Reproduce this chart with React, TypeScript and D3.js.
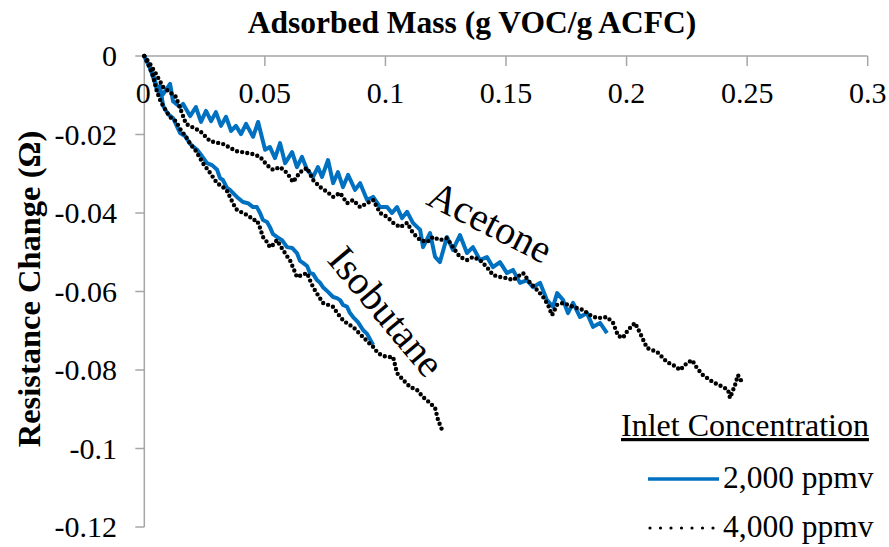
import React from "react";
import * as d3 from "d3";

// Adsorbed mass (g VOC / g ACFC) vs. resistance change (ohm)
const acetone2000: [number, number][] = [
  [0, 0], [0.0036, -0.0046], [0.0057, -0.0089], [0.0078, -0.0097], [0.0107, -0.0071],
  [0.0119, -0.0115], [0.0148, -0.013], [0.0161, -0.0122], [0.019, -0.0153], [0.0214, -0.013],
  [0.0235, -0.0168], [0.0256, -0.014], [0.0277, -0.0166], [0.0297, -0.0143], [0.0318, -0.0178],
  [0.0339, -0.0155], [0.036, -0.0191], [0.038, -0.0178], [0.0401, -0.0199], [0.0422, -0.0173],
  [0.0451, -0.0206], [0.0472, -0.0168], [0.0492, -0.0217], [0.0501, -0.0239], [0.0521, -0.0232],
  [0.0542, -0.026], [0.0563, -0.0222], [0.0584, -0.0273], [0.0613, -0.0245], [0.0633, -0.0283],
  [0.0654, -0.0257], [0.0675, -0.029], [0.07, -0.0308], [0.072, -0.0283], [0.0737, -0.0308],
  [0.0762, -0.0265], [0.0783, -0.0324], [0.0803, -0.0296], [0.0824, -0.0334], [0.0845, -0.0303],
  [0.0874, -0.0341], [0.0895, -0.0324], [0.0924, -0.0367], [0.0949, -0.0359], [0.0978, -0.0385],
  [0.1007, -0.0385], [0.1027, -0.04], [0.1048, -0.0385], [0.1069, -0.0413], [0.109, -0.0397],
  [0.1114, -0.0425], [0.1144, -0.0443], [0.1156, -0.0487], [0.1185, -0.0451], [0.1206, -0.0512],
  [0.1226, -0.0525], [0.1255, -0.0461], [0.128, -0.0494], [0.1309, -0.0456], [0.1338, -0.0502],
  [0.1363, -0.0487], [0.1392, -0.052], [0.1421, -0.0512], [0.1446, -0.0538], [0.1475, -0.0525],
  [0.1504, -0.0553], [0.1529, -0.0545], [0.1558, -0.0578], [0.1587, -0.0571], [0.1612, -0.0589],
  [0.1641, -0.0578], [0.167, -0.0622], [0.1695, -0.0639], [0.1712, -0.0604], [0.1737, -0.0622],
  [0.1757, -0.0655], [0.1778, -0.0629], [0.1807, -0.0665], [0.1836, -0.0655], [0.1861, -0.069],
  [0.189, -0.068], [0.1919, -0.0706],
];

const acetone4000: [number, number][] = [
  [0, 0], [0.0024, -0.002], [0.0049, -0.0046], [0.0078, -0.0079], [0.0131, -0.0104],
  [0.0173, -0.0173], [0.0231, -0.0191], [0.0273, -0.0217], [0.0326, -0.0224], [0.038, -0.0242],
  [0.0451, -0.025], [0.048, -0.0257], [0.0509, -0.0278], [0.0534, -0.029], [0.0563, -0.0283],
  [0.0592, -0.0298], [0.0617, -0.0321], [0.0646, -0.0296], [0.0675, -0.0285], [0.07, -0.0316],
  [0.0729, -0.0334], [0.0758, -0.0346], [0.0783, -0.0359], [0.0812, -0.0349], [0.0841, -0.0375],
  [0.0866, -0.0367], [0.0895, -0.0385], [0.0924, -0.0375], [0.0949, -0.0367], [0.0978, -0.04],
  [0.1007, -0.041], [0.1032, -0.0425], [0.1061, -0.0436], [0.109, -0.0425], [0.1114, -0.0451],
  [0.1144, -0.0469], [0.1173, -0.0474], [0.1197, -0.0461], [0.1226, -0.0469], [0.1255, -0.0464],
  [0.128, -0.0487], [0.1309, -0.0512], [0.1338, -0.052], [0.1363, -0.0512], [0.1392, -0.052],
  [0.1421, -0.0538], [0.1446, -0.0558], [0.1475, -0.0563], [0.1504, -0.0566], [0.1529, -0.0571],
  [0.1558, -0.0558], [0.1571, -0.0553], [0.16, -0.0578], [0.1629, -0.0596], [0.1654, -0.0614],
  [0.1674, -0.0634], [0.1691, -0.066], [0.1712, -0.0634], [0.1737, -0.0629], [0.1778, -0.0639],
  [0.182, -0.0647], [0.1849, -0.066], [0.1878, -0.0668], [0.1919, -0.0665], [0.1944, -0.068],
  [0.1965, -0.0713], [0.1985, -0.0718], [0.2006, -0.0698], [0.2035, -0.068], [0.2056, -0.0706],
  [0.2085, -0.0744], [0.2127, -0.0754], [0.2168, -0.078], [0.2193, -0.0787], [0.2222, -0.08],
  [0.2251, -0.0782], [0.2272, -0.0775], [0.2292, -0.0795], [0.2317, -0.0813], [0.2359, -0.0831],
  [0.24, -0.0843], [0.2421, -0.0851], [0.2429, -0.0871], [0.245, -0.0838], [0.2462, -0.0813],
  [0.2479, -0.0831],
];

const isobutane2000: [number, number][] = [
  [0, 0], [0.0024, -0.0031], [0.004, -0.0061], [0.0053, -0.0087], [0.0065, -0.0076],
  [0.0078, -0.0127], [0.0098, -0.0148], [0.0119, -0.0158], [0.0148, -0.0196], [0.0169, -0.0204],
  [0.019, -0.0224], [0.0219, -0.0239], [0.0239, -0.0255], [0.026, -0.0273], [0.0281, -0.0278],
  [0.0302, -0.029], [0.0314, -0.0311], [0.0326, -0.0316], [0.0343, -0.0336], [0.0355, -0.0341],
  [0.0384, -0.0359], [0.0409, -0.0372], [0.043, -0.0375], [0.0451, -0.0385], [0.0467, -0.0385],
  [0.048, -0.04], [0.0492, -0.0418], [0.0509, -0.0423], [0.0521, -0.0436], [0.0534, -0.0454],
  [0.055, -0.0461], [0.0571, -0.0469], [0.0592, -0.0487], [0.0613, -0.0489], [0.0633, -0.0502],
  [0.0646, -0.0522], [0.0658, -0.0527], [0.0675, -0.0535], [0.0687, -0.0553], [0.07, -0.0555],
  [0.0716, -0.0571], [0.0729, -0.0578], [0.0741, -0.0589], [0.0762, -0.0601], [0.0783, -0.0614],
  [0.0799, -0.0617], [0.0812, -0.0622], [0.0824, -0.0634], [0.0841, -0.0639], [0.0853, -0.0655],
  [0.0866, -0.0665], [0.0886, -0.0678], [0.0907, -0.0698], [0.0924, -0.0708], [0.0949, -0.0736],
];

const isobutane4000: [number, number][] = [
  [0, 0], [0.0019, -0.0025], [0.0036, -0.0051], [0.0053, -0.0092], [0.0069, -0.0117],
  [0.009, -0.014], [0.0111, -0.0158], [0.0131, -0.0166], [0.0152, -0.0189], [0.0173, -0.0206],
  [0.0194, -0.0227], [0.0214, -0.0242], [0.0231, -0.026], [0.0243, -0.0273], [0.0273, -0.0298],
  [0.0302, -0.0324], [0.0326, -0.0334], [0.0343, -0.0344], [0.0355, -0.0359], [0.0372, -0.038],
  [0.0384, -0.0392], [0.0409, -0.04], [0.0426, -0.0405], [0.0438, -0.041], [0.0455, -0.0418],
  [0.0467, -0.0418], [0.048, -0.0438], [0.0492, -0.0461], [0.0509, -0.0474], [0.0521, -0.0487],
  [0.0538, -0.0479], [0.055, -0.0469], [0.0575, -0.0494], [0.0592, -0.051], [0.0604, -0.052],
  [0.0621, -0.0545], [0.0633, -0.0563], [0.0654, -0.0558], [0.0675, -0.0553], [0.0687, -0.0571],
  [0.07, -0.0589], [0.072, -0.0609], [0.0741, -0.0629], [0.0762, -0.0634], [0.0783, -0.0639],
  [0.0803, -0.0657], [0.0824, -0.0673], [0.0845, -0.0683], [0.0866, -0.069], [0.0886, -0.0703],
  [0.0907, -0.0716], [0.0928, -0.0729], [0.0949, -0.0741], [0.0969, -0.0757], [0.099, -0.0764],
  [0.1011, -0.0767], [0.1032, -0.0767], [0.1048, -0.0808], [0.1073, -0.0825], [0.1102, -0.0843],
  [0.1131, -0.0851], [0.1156, -0.0869], [0.1185, -0.0884], [0.1206, -0.0897], [0.1218, -0.0927],
  [0.1235, -0.0953],
];

const xTicks = [0, 0.05, 0.1, 0.15, 0.2, 0.25, 0.3];
const xTickLabels = ["0", "0.05", "0.1", "0.15", "0.2", "0.25", "0.3"];
const yTicks = [0, -0.02, -0.04, -0.06, -0.08, -0.1, -0.12];
const yTickLabels = ["0", "-0.02", "-0.04", "-0.06", "-0.08", "-0.1", "-0.12"];
const legendEntries = ["2,000 ppmv", "4,000 ppmv"];

const W = 889;
const H = 547;
const SERIF = "'Liberation Serif', 'Times New Roman', serif";
const BLUE = "#0070C0";
const AXIS = "#A6A6A6";

export default function App() {
  const x = d3.scaleLinear().domain([0, 0.3]).range([144.3, 867.7]);
  const y = d3.scaleLinear().domain([0, -0.12]).range([56, 527]);
  const line = d3
    .line<[number, number]>()
    .x((d) => x(d[0]))
    .y((d) => y(d[1]));

  const solid = { fill: "none", stroke: BLUE, strokeWidth: 4, strokeLinejoin: "round" as const };
  const dotted = {
    fill: "none",
    stroke: "#000",
    strokeWidth: 4.4,
    strokeLinecap: "round" as const,
    strokeDasharray: "0 5.2",
  };
  const txt = { fontFamily: SERIF, fill: "#000" };

  return (
    <svg width={W} height={H} style={{ position: "absolute", left: 0, top: 0, background: "#fff" }}>
      {/* axes */}
      <line x1={x(0)} x2={x(0)} y1={y(0)} y2={y(-0.12)} stroke={AXIS} strokeWidth={1.5} />
      <line x1={x(0)} x2={x(0.3)} y1={y(0)} y2={y(0)} stroke={AXIS} strokeWidth={1.5} />
      {xTicks.map((t, i) => (
        <g key={"xt" + i}>
          {i > 0 && <line x1={x(t)} x2={x(t)} y1={y(0)} y2={y(0) + 10} stroke={AXIS} strokeWidth={1.5} />}
          <text x={i === 0 ? x(t) - 1 : x(t)} y={103} fontSize={30} textAnchor="middle" style={txt}>
            {xTickLabels[i]}
          </text>
        </g>
      ))}
      {yTicks.map((t, i) => (
        <g key={"yt" + i}>
          <line x1={x(0) - 9} x2={x(0)} y1={y(t)} y2={y(t)} stroke={AXIS} strokeWidth={1.5} />
          <text x={117} y={y(t) + 10} fontSize={30} textAnchor="end" style={txt}>
            {yTickLabels[i]}
          </text>
        </g>
      ))}

      {/* axis titles */}
      <text x={472} y={33} fontSize={31.5} fontWeight="bold" textAnchor="middle" style={txt}>
        Adsorbed Mass (g VOC/g ACFC)
      </text>
      <text
        transform="translate(40,289) rotate(-90)"
        fontSize={32.5}
        fontWeight="bold"
        textAnchor="middle"
        style={txt}
      >
        Resistance Change (Ω)
      </text>

      {/* series */}
      <path d={line(acetone2000) ?? ""} {...solid} />
      <path d={line(isobutane2000) ?? ""} {...solid} />
      <path d={line(acetone4000) ?? ""} {...dotted} />
      <path d={line(isobutane4000) ?? ""} {...dotted} />

      {/* curve labels */}
      <text transform="translate(484,234) rotate(27)" fontSize={40} textAnchor="middle" style={txt}>
        Acetone
      </text>
      <text transform="translate(376,320) rotate(50)" fontSize={40} textAnchor="middle" style={txt}>
        Isobutane
      </text>

      {/* legend */}
      <text x={621} y={436} fontSize={32} textDecoration="underline" style={txt}>
        Inlet Concentration
      </text>
      <line x1={648} x2={719} y1={479} y2={479} stroke={BLUE} strokeWidth={3.5} />
      <text x={723} y={488} fontSize={31.5} style={txt}>
        {legendEntries[0]}
      </text>
      <line
        x1={650}
        x2={714}
        y1={528}
        y2={528}
        stroke="#000"
        strokeWidth={3.2}
        strokeLinecap="round"
        strokeDasharray="0 10.5"
      />
      <text x={723} y={537} fontSize={31.5} style={txt}>
        {legendEntries[1]}
      </text>
    </svg>
  );
}
